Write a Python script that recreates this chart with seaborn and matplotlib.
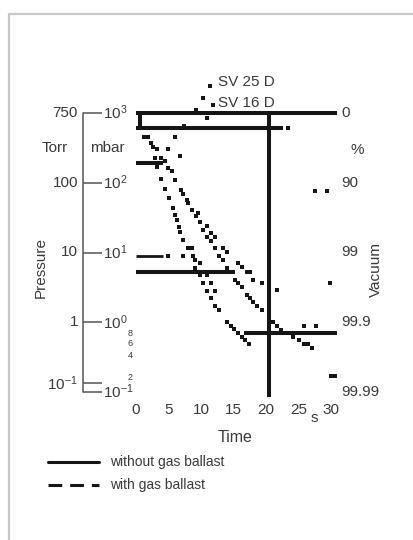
import matplotlib
matplotlib.use("Agg")
import matplotlib.pyplot as plt
import pandas as pd
import seaborn as sns
from matplotlib.lines import Line2D

sns.set_style("white")
plt.rcParams['font.family'] = ['Liberation Sans', 'DejaVu Sans']
plt.rcParams['mathtext.default'] = 'regular'

# ---------------- data ----------------
# pump-down scatter (time s, pressure mbar)
curve_a_t = [1.2, 2.3, 2.6, 2.9, 3.2, 3.8, 4.5, 5.1, 5.7, 6.0, 6.3, 6.6, 6.8, 7.2, 8.0, 8.6,
             8.8, 9.1, 9.8, 9.1, 9.8, 10.9, 10.3, 11.5, 10.9, 12.2, 11.5, 12.2, 12.8, 14.0,
             14.6, 15.1, 15.7, 16.3, 16.8, 17.4]
curve_a_p = [453, 372, 326, 226, 168, 113, 81.3, 60.4, 43.5, 34.5, 29.2, 23.2, 19.7, 15.1,
             11.6, 11.6, 8.91, 7.80, 7.06, 5.99, 4.75, 4.75, 3.66, 3.66, 2.81, 2.81, 2.23,
             1.71, 1.50, 1.01, 0.883, 0.800, 0.701, 0.615, 0.557, 0.488]

curve_b_t = [1.8, 3.2, 3.8, 4.5, 4.9, 5.5, 6.0, 6.9, 7.2, 7.8, 8.0, 8.6, 9.2, 9.5, 9.8, 10.9,
             10.3, 11.5, 10.9, 12.2, 11.5, 12.2, 13.4, 14.0, 12.8, 13.4, 14.0, 15.2, 15.7,
             16.3, 17.1, 17.5, 18.0, 18.6, 19.4, 21.1, 21.7, 22.3, 24.2, 25.1, 25.8, 26.5, 27.1]
curve_b_p = [453, 305, 226, 205, 163, 147, 109, 78.7, 69.0, 56.6, 51.3, 40.6, 33.4, 36.8,
             27.4, 24.0, 21.0, 19.1, 16.7, 16.7, 14.6, 11.6, 11.6, 10.2, 8.91, 7.80, 5.99,
             4.03, 3.66, 3.20, 2.46, 2.23, 1.95, 1.71, 1.50, 1.01, 0.883, 0.774, 0.615,
             0.557, 0.488, 0.488, 0.428]

curve_c_t = [11.4, 10.3, 11.8, 9.2, 10.9, 7.4, 23.4, 6.0, 4.9, 6.8, 4.9, 7.2, 15.7, 16.3,
             17.1, 17.5, 18.0, 19.4, 21.7, 27.5, 29.4, 29.8, 25.8, 27.7, 30.0, 30.6]
curve_c_p = [2440, 1640, 1300, 1100, 848, 651, 609, 453, 305, 242, 8.91, 8.91, 7.06, 6.19,
             5.25, 5.25, 4.03, 3.66, 2.90, 76.2, 76.2, 3.66, 0.883, 0.883, 0.169, 0.169]

# reference lines (pressure level mbar, start s, end s)
hline_p = [1000, 609, 192, 5.25, 0.70]
hline_t0 = [0, 0, 0, 0, 16.6]
hline_t1 = [30.9, 22.6, 4.15, 15.2, 30.9]
thin_p = [8.91]
thin_t0 = [0]
thin_t1 = [4.15]
vline_t = [20.46, 0.6]
vline_p0 = [0.0848, 609]
vline_p1 = [1000, 1000]

# axis ticks / labels
mbar_ticks = [1000, 100, 10, 1, 0.1]
mbar_labels = ['$10^3$', '$10^2$', '$10^1$', '$10^0$', '$10^{-1}$']
torr_ticks = [1000, 100, 10, 1, 0.1333]
torr_labels = ['750', '100', '10', '1', '$10^{-1}$']
vac_labels = ['0', '90', '99', '99.9', '99.99']
time_ticks = [0, 5, 10, 15, 20, 25, 30]
minor_labels = ['8', '6', '4', '2']

# ---------------- layout ----------------
W, H = 414, 540
X0, PXS = 136, 6.5          # pixel of t=0, pixels per second
Y3, PXD = 113, 69.75        # pixel of 1000 mbar, pixels per decade

def tx(x):
    return (x - X0) / PXS

def fpx(x, y):
    return (x / W, 1 - y / H)

TXT = '#3a3a3a'
INK = '#151515'

fig = plt.figure(figsize=(W / 100, H / 100), dpi=100)
ax = fig.add_axes([0, 0, 1, 1])
ax.set_yscale('log')
ax.set_xlim(tx(0), tx(W))
ax.set_ylim(10 ** (3 - (H - Y3) / PXD), 10 ** (3 + Y3 / PXD))
ax.axis('off')

# scatter squares
df = pd.concat([
    pd.DataFrame({'t': curve_a_t, 'p': curve_a_p, 's': 'A'}),
    pd.DataFrame({'t': curve_b_t, 'p': curve_b_p, 's': 'B'}),
    pd.DataFrame({'t': curve_c_t, 'p': curve_c_p, 's': 'C'}),
])
sns.scatterplot(data=df, x='t', y='p', marker='s', s=8, color=INK,
                edgecolor='none', linewidth=0, legend=False, ax=ax)

# thick lines
ax.hlines(hline_p, hline_t0, hline_t1, colors=INK, linewidth=2.9)
ax.hlines(thin_p, thin_t0, thin_t1, colors=INK, linewidth=2.0)
ax.vlines(vline_t, vline_p0, vline_p1, colors=INK, linewidth=2.9)

# left pressure axis
xa = tx(83)
ax.plot([xa, xa], [min(mbar_ticks), max(mbar_ticks)], color='#555555', lw=1.1)
ax.hlines(mbar_ticks + [torr_ticks[-1]], xa, tx(102), colors='#555555', lw=1.1)
for p, lab in zip(torr_ticks, torr_labels):
    ax.text(tx(78), p, lab, ha='right', va='center', fontsize=11, color=TXT)
for p, lab in zip(mbar_ticks, mbar_labels):
    ax.text(tx(103), p, lab, ha='left', va='center', fontsize=11, color=TXT)
for p, lab in zip(mbar_ticks, vac_labels):
    ax.text(tx(341), p, lab, ha='left', va='center', fontsize=11, color=TXT)
for t in time_ticks:
    ax.annotate(str(t), (t, H - 410), xycoords=('data', 'figure pixels'),
                ha='center', va='center', fontsize=11, color=TXT)

for (x, y), lab in zip([(130, 333), (130, 344), (130, 356), (130, 377)], minor_labels):
    fig.text(*fpx(x, y), lab, ha='center', va='center', fontsize=6.5, color=TXT)

fig.text(*fpx(55, 148), 'Torr', ha='center', va='center', fontsize=11, color=TXT)
fig.text(*fpx(107, 148), 'mbar', ha='center', va='center', fontsize=11, color=TXT)
fig.text(*fpx(357, 150), '%', ha='center', va='center', fontsize=11, color=TXT)
fig.text(*fpx(41, 268), 'Pressure', ha='center', va='center', rotation=90, fontsize=11, color=TXT)
fig.text(*fpx(376, 269), 'Vacuum', ha='center', va='center', rotation=90, fontsize=11, color=TXT)
fig.text(*fpx(218, 82), 'SV 25 D', ha='left', va='center', fontsize=11, color=TXT)
fig.text(*fpx(218, 103), 'SV 16 D', ha='left', va='center', fontsize=11, color=TXT)
fig.text(*fpx(314, 418), 's', ha='center', va='center', fontsize=11, color=TXT)
fig.text(*fpx(235, 438), 'Time', ha='center', va='center', fontsize=11.5, color=TXT)

# legend
fig.add_artist(Line2D([48 / W, 99 / W], [1 - 462 / H] * 2, color=INK, lw=2.2))
fig.add_artist(Line2D([48 / W, 99 / W], [1 - 485 / H] * 2, color=INK, lw=2.2,
                      dashes=(4.5, 2.6)))
fig.text(*fpx(110, 462), 'without gas ballast', ha='left', va='center', fontsize=10, color=TXT)
fig.text(*fpx(110, 485), 'with gas ballast', ha='left', va='center', fontsize=10, color=TXT)

# frame
fig.add_artist(Line2D([9 / W, 9 / W, 1], [0, 1 - 14 / H, 1 - 14 / H],
                      color='#c8c8c8', lw=1.6))

fig.savefig('out.png', dpi=100)
